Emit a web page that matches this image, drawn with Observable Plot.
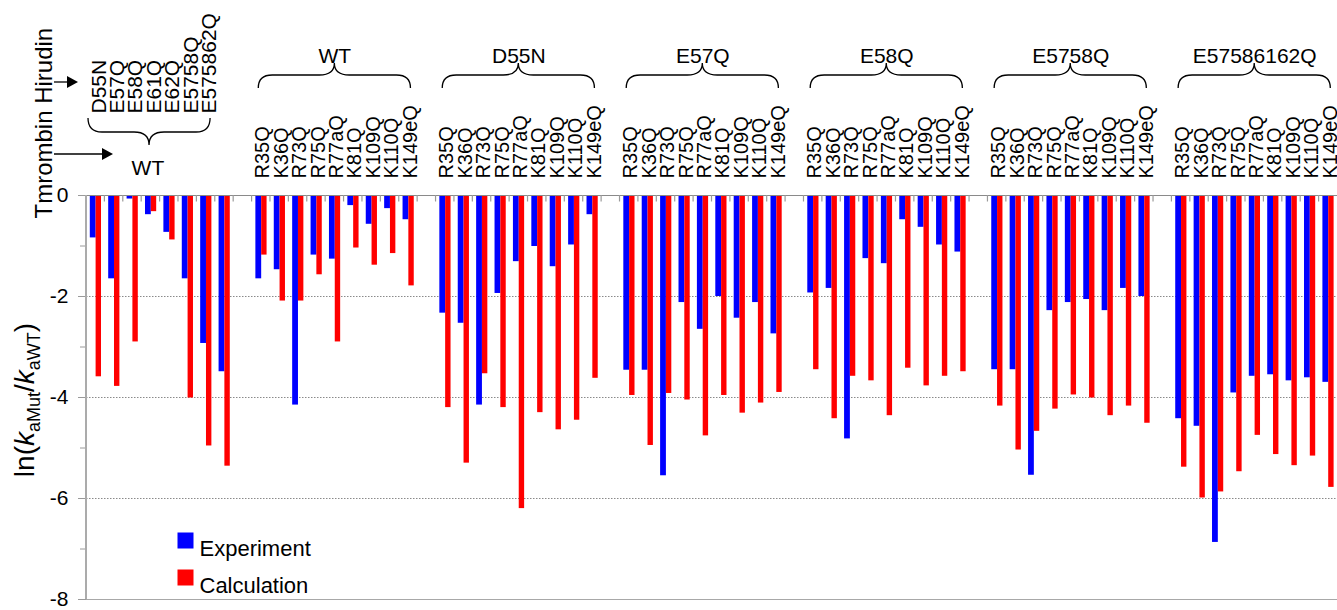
<!DOCTYPE html>
<html>
<head>
<meta charset="utf-8">
<script src="https://cdn.jsdelivr.net/npm/d3@7"></script>
<script src="https://cdn.jsdelivr.net/npm/@observablehq/plot@0.6"></script>
<style>
html, body { margin: 0; padding: 0; background: #fff; }
#chart { width: 1337px; height: 610px; }
</style>
</head>
<body>
<div id="chart"></div>
<script>
// ---------- data ----------
// Thrombin WT with hirudin mutants (8 bars; 7 labels shown)
const hirudinMutants = ["D55N", "E57Q", "E58Q", "E61Q", "E62Q", "E5758Q", "E575862Q", ""];
const hirudinExp  = [-0.84, -1.65, -0.07, -0.38, -0.73, -1.65, -2.93, -3.49];
const hirudinCalc = [-3.59, -3.78, -2.90, -0.32, -0.88, -4.01, -4.96, -5.36];

// Thrombin mutants, grouped by hirudin variant
const thrombinMutants = ["R35Q", "K36Q", "R73Q", "R75Q", "R77aQ", "K81Q", "K109Q", "K110Q", "K149eQ"];
const groupNames = ["WT", "D55N", "E57Q", "E58Q", "E5758Q", "E57586162Q"];

const expWT   = [-1.65, -1.47, -4.15, -1.18, -1.26, -0.20, -0.57, -0.26, -0.48];
const calcWT  = [-1.18, -2.09, -2.09, -1.57, -2.90, -1.04, -1.38, -1.15, -1.79];
const expD55N  = [-2.33, -2.53, -4.15, -1.94, -1.31, -1.01, -1.41, -0.98, -0.38];
const calcD55N = [-4.20, -5.30, -3.53, -4.20, -6.20, -4.30, -4.64, -4.45, -3.62];
const expE57Q  = [-3.46, -3.46, -5.55, -2.12, -2.65, -2.00, -2.43, -2.12, -2.74];
const calcE57Q = [-3.96, -4.95, -3.92, -4.05, -4.76, -3.96, -4.31, -4.11, -3.90];
const expE58Q  = [-1.93, -1.84, -4.82, -1.25, -1.35, -0.48, -0.63, -0.98, -1.12];
const calcE58Q = [-3.45, -4.42, -3.58, -3.67, -4.36, -3.42, -3.77, -3.58, -3.49];
const expE5758Q  = [-3.45, -3.45, -5.54, -2.28, -2.12, -2.06, -2.28, -1.84, -2.00];
const calcE5758Q = [-4.17, -5.04, -4.67, -4.23, -3.95, -4.01, -4.36, -4.17, -4.51];
const expE57586162Q  = [-4.42, -4.57, -6.87, -3.91, -3.58, -3.55, -3.67, -3.61, -3.70];
const calcE57586162Q = [-5.38, -5.99, -5.87, -5.47, -4.75, -5.13, -5.35, -5.16, -5.78];

const yTicks = [0, -2, -4, -6, -8];
const yMinorTicks = [-1, -3, -5, -7];
const legendLabels = ["Experiment", "Calculation"];
const seriesColors = ["#0000ff", "#ff0000"];
const sideLabel = "Tmrombin Hirudin";
const hirudinWTLabel = "WT";

// ---------- table ----------
const groupExp  = [expWT, expD55N, expE57Q, expE58Q, expE5758Q, expE57586162Q];
const groupCalc = [calcWT, calcD55N, calcE57Q, calcE58Q, calcE5758Q, calcE57586162Q];

const rows = [];
const domain = [];
hirudinMutants.forEach((m, i) => {
  const key = "Hirudin|" + i;
  domain.push(key);
  rows.push({key, group: "Hirudin", label: m, exp: hirudinExp[i], calc: hirudinCalc[i]});
});
groupNames.forEach((g, gi) => {
  domain.push("gap|" + gi);
  thrombinMutants.forEach((m, i) => {
    const key = g + "|" + m;
    domain.push(key);
    rows.push({key, group: g, label: m, exp: groupExp[gi][i], calc: groupCalc[gi][i]});
  });
});
const groupTitles = groupNames.map(g => ({group: g, key: g + "|" + thrombinMutants[4],
  first: g + "|" + thrombinMutants[0], last: g + "|" + thrombinMutants[thrombinMutants.length - 1]}));

const FONT = "'Liberation Sans', Arial, Helvetica, sans-serif";

// ---------- annotation mark (axis line, x ticks, braces, arrows, y title) ----------
function annotations(index, scales, values, dim) {
  const x = scales.x, y = scales.y;
  const bw = typeof x.bandwidth === "function" ? x.bandwidth() : scales.scales.x.bandwidth;
  const cx = k => x(k) + bw / 2;
  const top = dim.marginTop, ml = dim.marginLeft;
  const g = d3.create("svg:g");

  // y axis line
  g.append("line").attr("x1", ml).attr("x2", ml).attr("y1", y(0)).attr("y2", y(-8))
    .attr("stroke", "#ababab").attr("stroke-width", 2);
  // x ticks at category boundaries
  g.append("g").attr("stroke", "#9a9a9a").attr("stroke-width", 1.2)
    .selectAll("line").data(domain.slice(1)).join("line")
    .attr("x1", k => x(k)).attr("x2", k => x(k))
    .attr("y1", y(0)).attr("y2", y(0) + 6.5);

  const brace = (x1, x2, yEnd, yMid, yTip) => {
    const xm = (x1 + x2) / 2, r = 14, rt = 15;
    return `M${x1},${yEnd} Q${x1},${yMid} ${x1 + r},${yMid} L${xm - rt},${yMid} Q${xm},${yMid} ${xm},${yTip}`
      + ` Q${xm},${yMid} ${xm + rt},${yMid} L${x2 - r},${yMid} Q${x2},${yMid} ${x2},${yEnd}`;
  };
  const bg = g.append("g").attr("fill", "none").attr("stroke", "#000").attr("stroke-width", 1.3);
  for (const t of groupTitles) {
    bg.append("path").attr("d", brace(cx(t.first) - 2.5, cx(t.last) + 2.5, top - 107, top - 120, top - 132));
  }
  // brace under the hirudin labels (pointing down)
  bg.append("path").attr("d", brace(x(domain[0]) + 2, cx(domain[6]) + 4.5, top - 77, top - 63, top - 50));

  // arrows
  const arrow = (xa, xb, ya) => {
    bg.append("line").attr("x1", xa).attr("x2", xb - 9).attr("y1", ya).attr("y2", ya);
    g.append("path").attr("d", `M${xb},${ya} L${xb - 11},${ya - 6} L${xb - 11},${ya + 6} Z`).attr("fill", "#000");
  };
  arrow(ml - 32, ml - 8, top - 113);
  arrow(ml - 32, ml + 27, top - 41);

  // y axis title with subscripts
  const t = g.append("text")
    .attr("transform", `translate(${ml - 52},${(y(0) + y(-8)) / 2 + 3}) rotate(-90)`)
    .attr("text-anchor", "middle").attr("font-size", 28).attr("fill", "#000")
    .attr("font-family", FONT);
  t.append("tspan").text("ln(");
  t.append("tspan").attr("font-style", "italic").text("k");
  t.append("tspan").attr("font-size", 18).attr("dy", 6).text("aMut");
  t.append("tspan").attr("dy", -6).text("/");
  t.append("tspan").attr("font-style", "italic").text("k");
  t.append("tspan").attr("font-size", 18).attr("dy", 6).text("aWT");
  t.append("tspan").attr("dy", -6).text(")");
  return g.node();
}

// ---------- plot ----------
const chart = Plot.plot({
  width: 1337,
  height: 610,
  marginLeft: 86,
  marginRight: 0,
  marginTop: 195,
  marginBottom: 11,
  style: {fontFamily: FONT, background: "#fff", overflow: "visible", color: "#000"},
  x: {type: "band", domain, padding: 0, round: false, axis: null},
  y: {domain: [-8, 0], axis: null},
  marks: [
    Plot.ruleY([-2, -4, -6], {stroke: "#8a8a8a", strokeDasharray: "1.5,1.5", strokeWidth: 1}),
    Plot.ruleY([-8], {stroke: "#a8a8a8", strokeWidth: 1}),
    Plot.barY(rows, {x: "key", y1: 0, y2: "exp", fill: seriesColors[0], insetLeft: 3.8, insetRight: 8.8}),
    Plot.barY(rows, {x: "key", y1: 0, y2: "calc", fill: seriesColors[1], insetLeft: 9.6, insetRight: 3.4}),
    Plot.ruleY([0], {stroke: "#8a8a8a", strokeWidth: 1}),
    Plot.axisY({ticks: yTicks, tickSize: 8, tickPadding: 10, tickFormat: d => String(d),
      fontSize: 21, stroke: "#9a9a9a", fill: "#000", label: null}),
    Plot.axisY({ticks: yMinorTicks, tickSize: 6, tickFormat: () => "", stroke: "#9a9a9a", label: null}),
    // thrombin mutant labels
    Plot.text(rows.filter(d => d.group !== "Hirudin"), {x: "key", text: "label", rotate: -90,
      textAnchor: "start", frameAnchor: "top", dy: -17, dx: -6, fontSize: 20, fill: "#000"}),
    // hirudin mutant labels
    Plot.text(rows.filter(d => d.group === "Hirudin" && d.label), {x: "key", text: "label", rotate: -90,
      textAnchor: "start", frameAnchor: "top", dy: -82, dx: -5, fontSize: 21, fill: "#000"}),
    // group titles
    Plot.text(groupTitles, {x: "key", text: "group", frameAnchor: "top", dy: -147.5, fontSize: 21, fill: "#000"}),
    Plot.text([hirudinWTLabel], {x: () => domain[3], text: d => d, frameAnchor: "top", dy: -35, dx: -3, fontSize: 21, fill: "#000"}),
    Plot.text([sideLabel], {text: d => d, frameAnchor: "top-left", rotate: -90, textAnchor: "start",
      dx: -52, dy: 23, fontSize: 24, fill: "#000"}),
    // legend
    Plot.dot(legendLabels.slice(0, 1), {frameAnchor: "top-left", dx: 99, dy: 345, symbol: "square", r: 9.03,
      fill: seriesColors[0], stroke: null}),
    Plot.dot(legendLabels.slice(1), {frameAnchor: "top-left", dx: 99, dy: 382, symbol: "square", r: 9.03,
      fill: seriesColors[1], stroke: null}),
    Plot.text(legendLabels.slice(0, 1), {text: d => d, frameAnchor: "top-left", dx: 113, dy: 345,
      textAnchor: "start", fontSize: 22, fill: "#000"}),
    Plot.text(legendLabels.slice(1), {text: d => d, frameAnchor: "top-left", dx: 113, dy: 382,
      textAnchor: "start", fontSize: 22, fill: "#000"}),
    annotations
  ]
});
document.getElementById("chart").appendChild(chart);
</script>
</body>
</html>
